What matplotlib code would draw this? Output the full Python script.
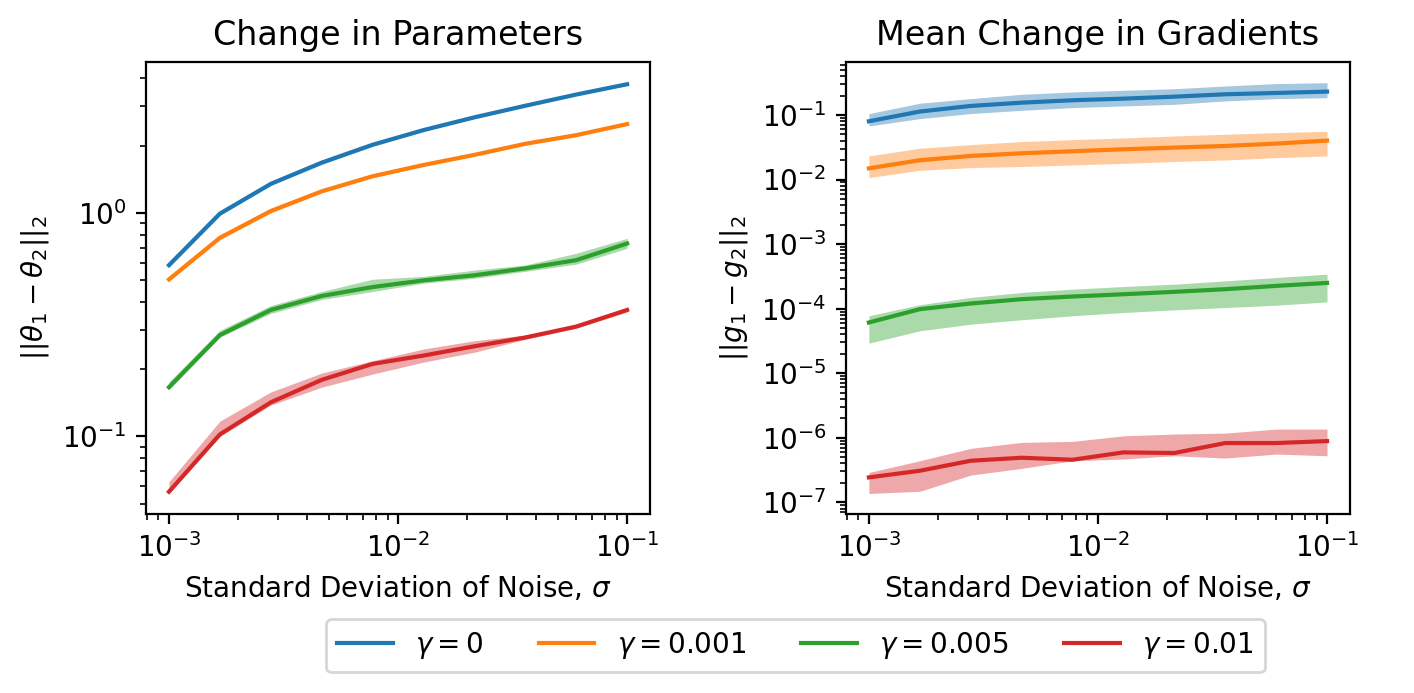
import matplotlib
matplotlib.use("Agg")
import matplotlib.pyplot as plt

# noise levels (sigma)
sigmas = [1e-3, 1.668e-3, 2.783e-3, 4.642e-3, 7.743e-3,
          1.292e-2, 2.154e-2, 3.594e-2, 5.995e-2, 1e-1]
gamma_labels = [r"$\gamma = 0$", r"$\gamma = 0.001$", r"$\gamma = 0.005$", r"$\gamma = 0.01$"]
colors = ["tab:blue", "tab:orange", "tab:green", "tab:red"]

# change in parameters: mean, lower, upper
param_mean = [
    [0.584, 0.993, 1.35, 1.68, 2.02, 2.35, 2.68, 3.02, 3.39, 3.77],
    [0.504, 0.774, 1.02, 1.25, 1.46, 1.64, 1.82, 2.04, 2.23, 2.50],
    [0.166, 0.284, 0.368, 0.425, 0.466, 0.499, 0.526, 0.565, 0.615, 0.730],
    [0.0565, 0.102, 0.142, 0.179, 0.211, 0.230, 0.253, 0.277, 0.310, 0.368],
]
param_low = [
    [0.572, 0.975, 1.33, 1.65, 1.99, 2.32, 2.65, 2.99, 3.36, 3.72],
    [0.495, 0.760, 1.00, 1.23, 1.44, 1.62, 1.80, 2.02, 2.21, 2.47],
    [0.162, 0.278, 0.355, 0.410, 0.445, 0.485, 0.510, 0.548, 0.590, 0.695],
    [0.0555, 0.100, 0.138, 0.166, 0.190, 0.215, 0.238, 0.272, 0.305, 0.360],
]
param_high = [
    [0.600, 1.02, 1.38, 1.72, 2.06, 2.39, 2.72, 3.06, 3.43, 3.83],
    [0.515, 0.795, 1.04, 1.27, 1.48, 1.66, 1.85, 2.07, 2.26, 2.54],
    [0.175, 0.298, 0.385, 0.445, 0.505, 0.520, 0.555, 0.585, 0.660, 0.770],
    [0.0626, 0.117, 0.158, 0.192, 0.218, 0.246, 0.268, 0.284, 0.315, 0.375],
]

# mean change in gradients: mean, lower, upper
grad_mean = [
    [0.0798, 0.113, 0.138, 0.155, 0.169, 0.179, 0.192, 0.209, 0.219, 0.230],
    [0.0149, 0.0199, 0.0232, 0.0255, 0.0274, 0.0294, 0.0312, 0.0331, 0.0360, 0.0401],
    [6.1e-5, 9.8e-5, 1.2e-4, 1.4e-4, 1.54e-4, 1.67e-4, 1.82e-4, 2.0e-4, 2.25e-4, 2.5e-4],
    [2.43e-7, 3.08e-7, 4.4e-7, 4.9e-7, 4.56e-7, 5.93e-7, 5.8e-7, 8.27e-7, 8.27e-7, 8.87e-7],
]
grad_low = [
    [0.0675, 0.0877, 0.105, 0.118, 0.130, 0.138, 0.146, 0.165, 0.179, 0.185],
    [0.0107, 0.0139, 0.0153, 0.0159, 0.0168, 0.0178, 0.0190, 0.0201, 0.0218, 0.0232],
    [2.92e-5, 4.53e-5, 5.75e-5, 6.72e-5, 7.75e-5, 8.7e-5, 9.57e-5, 1.04e-4, 1.13e-4, 1.27e-4],
    [1.37e-7, 1.48e-7, 2.64e-7, 3.35e-7, 4.4e-7, 4.68e-7, 5.26e-7, 4.84e-7, 5.58e-7, 5.26e-7],
]
grad_high = [
    [0.105, 0.152, 0.179, 0.209, 0.227, 0.241, 0.255, 0.281, 0.306, 0.316],
    [0.0232, 0.0305, 0.0347, 0.0387, 0.0415, 0.0440, 0.0473, 0.0502, 0.0533, 0.0559],
    [7.75e-5, 1.15e-4, 1.49e-4, 1.78e-4, 2.0e-4, 2.2e-4, 2.39e-4, 2.69e-4, 3.03e-4, 3.42e-4],
    [2.9e-7, 4.4e-7, 6.84e-7, 8.47e-7, 8.78e-7, 1.07e-6, 1.14e-6, 1.18e-6, 1.36e-6, 1.36e-6],
]

fig = plt.figure(figsize=(7.07, 3.465), dpi=200)
ax1 = fig.add_axes([0.1033, 0.2583, 0.3564, 0.652])
ax2 = fig.add_axes([0.5983, 0.2583, 0.3564, 0.652])

lines = []
for i in range(4):
    l, = ax1.plot(sigmas, param_mean[i], color=colors[i], label=gamma_labels[i])
    ax1.fill_between(sigmas, param_low[i], param_high[i], color=colors[i], alpha=0.4, linewidth=0)
    ax2.plot(sigmas, grad_mean[i], color=colors[i])
    ax2.fill_between(sigmas, grad_low[i], grad_high[i], color=colors[i], alpha=0.4, linewidth=0)
    lines.append(l)

for ax in (ax1, ax2):
    ax.set_xscale("log")
    ax.set_yscale("log")
    ax.set_xlabel(r"Standard Deviation of Noise, $\sigma$")

ax1.set_title("Change in Parameters")
ax1.set_ylabel(r"$||\theta_1 - \theta_2||_2$")
ax2.set_title("Mean Change in Gradients")
ax2.set_ylabel(r"$||g_1 - g_2||_2$")

# legend shared by both panels, under the figure
fig.legend(handles=lines, loc="lower center", ncol=4, bbox_to_anchor=(0.5625, 0.010))

fig.savefig("out.png", dpi=200)
